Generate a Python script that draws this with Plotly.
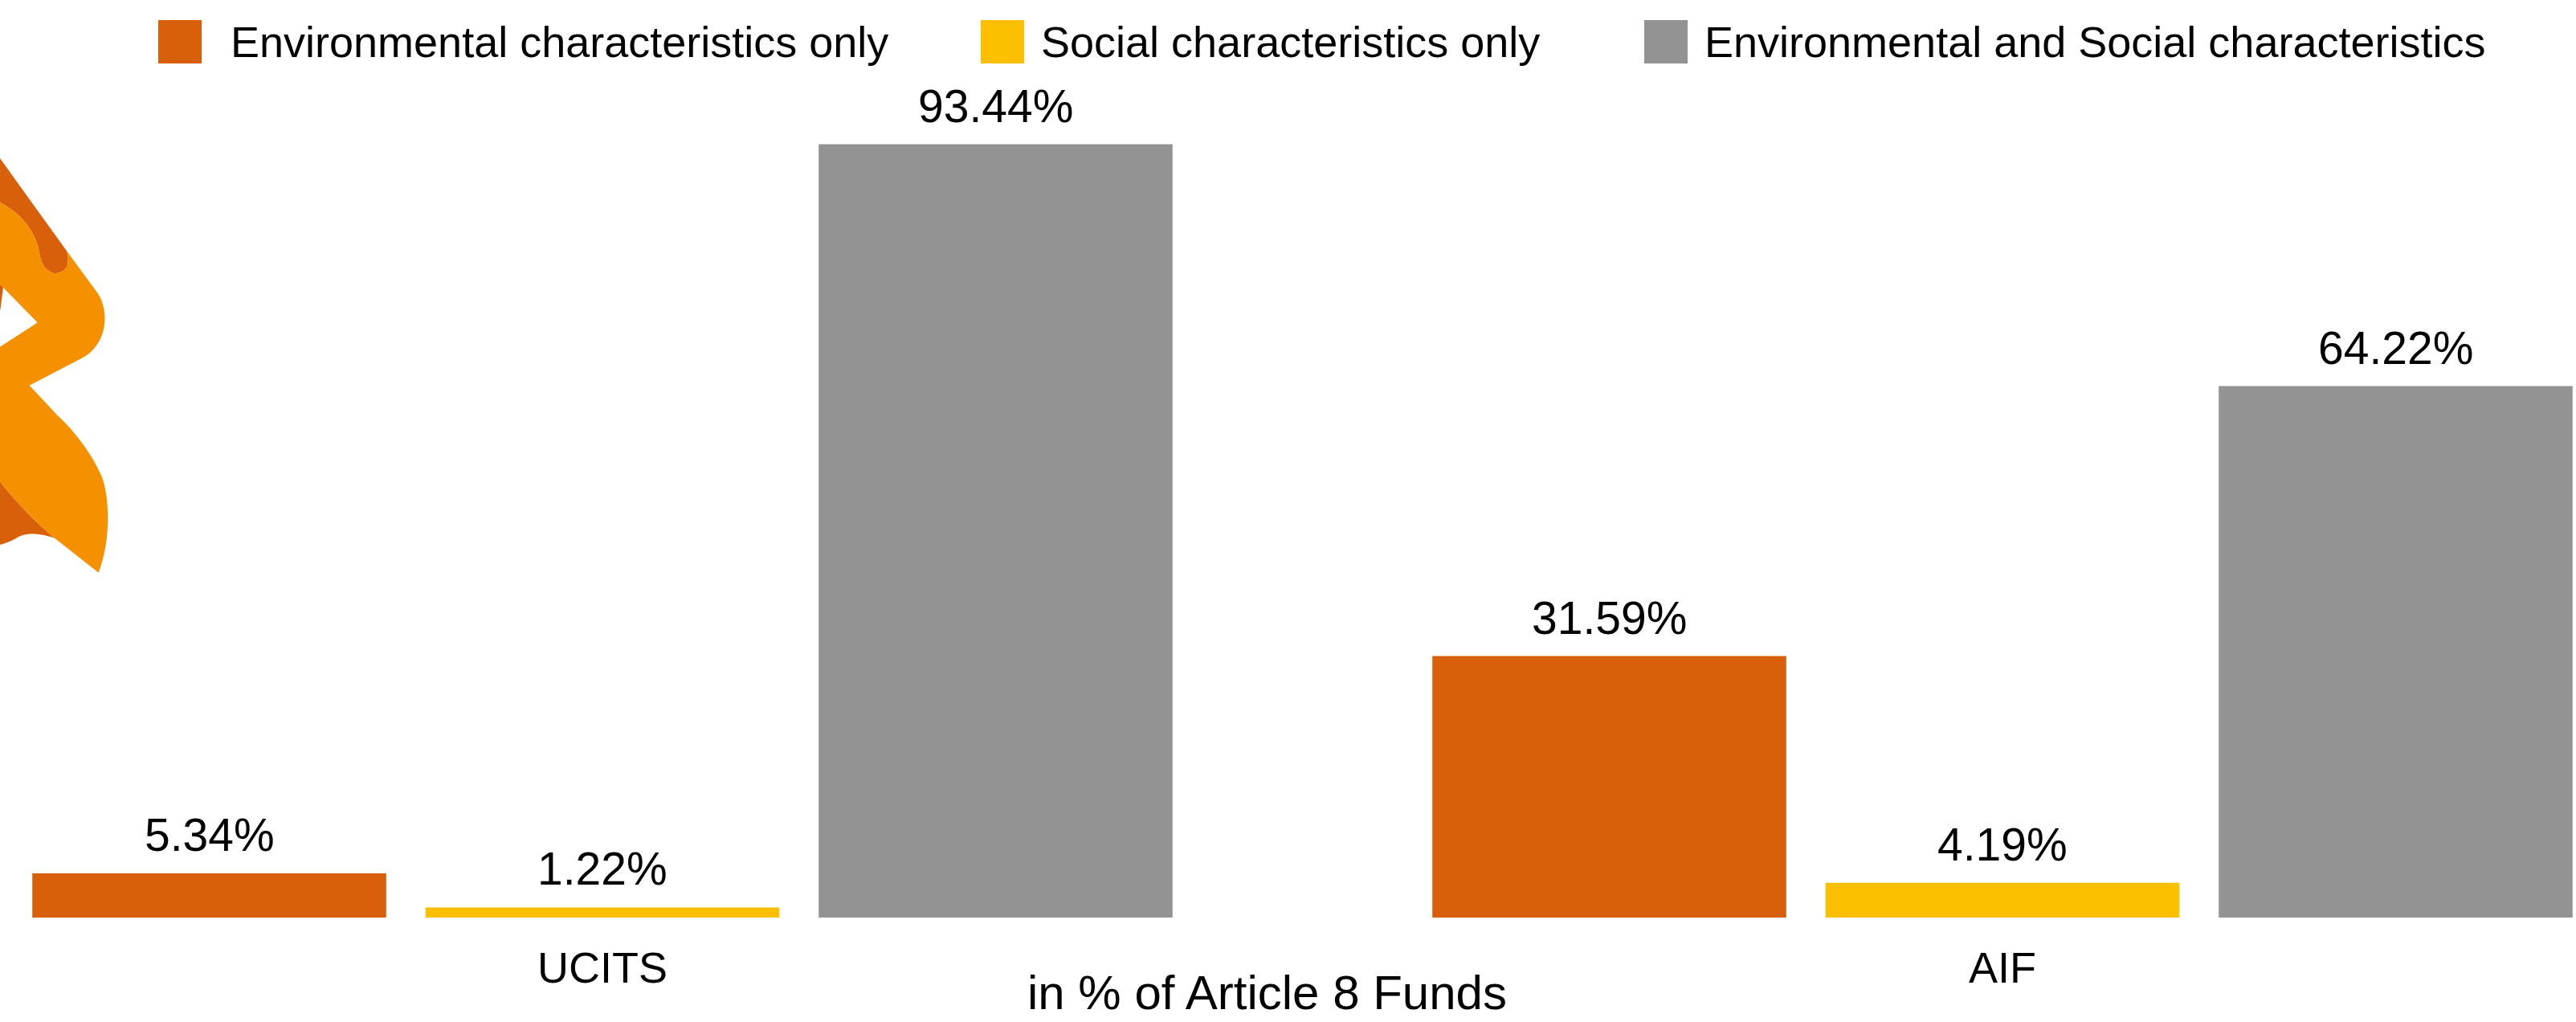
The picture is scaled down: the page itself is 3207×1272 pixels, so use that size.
import plotly.graph_objects as go

W, H = 3207, 1272
BASE_Y = 1142

fund_types = ["UCITS", "AIF"]
series_names = [
    "Environmental characteristics only",
    "Social characteristics only",
    "Environmental and Social characteristics",
]
environmental = [5.34, 31.59]
social = [1.22, 4.19]
env_and_social = [93.44, 64.22]
series_values = [environmental, social, env_and_social]
series_colors = ["#D9600A", "#FCC000", "#939393"]
axis_caption = "in % of Article 8 Funds"

LABEL_FONT = "Liberation Sans"

GROUP_STEP_PX = 1743   # distance between the two fund-type groups
BAR_STEP_PX = 489.5    # distance between neighbouring bars in a group
PX_PER_PCT = 10.3


def px(x):
    return x / W


def py(y):
    return (BASE_Y - y) / BASE_Y


def path(cmds):
    """Build an SVG path in paper coordinates from pixel-based commands."""
    out = []
    for cmd, *pts in cmds:
        out.append(cmd + " ".join(f"{px(x):.5f},{py(y):.5f}" for x, y in pts))
    return " ".join(out) + " Z"


def z(x, y):
    # Logo outline is authored on a 3 : 2.8 grid with its origin at (0, 170)
    return (x / 3, 170 + y / 2.8)


logo_light = [
    ("M", z(-3, 228)),
    ("C", z(70, 262), z(135, 325), z(148, 410)),
    ("C", z(155, 450), z(180, 478), z(210, 476)),
    ("C", z(250, 472), z(262, 445), z(250, 400)),
    ("L", z(360, 540)),
    ("C", z(410, 600), z(405, 720), z(310, 770)),
    ("L", z(110, 867)),
    ("L", z(215, 972)),
    ("C", z(290, 1035), z(350, 1120), z(378, 1180)),
    ("C", z(406, 1240), z(420, 1390), z(368, 1520)),
    ("L", z(205, 1400)),
    ("C", z(130, 1340), z(50, 1265), z(-3, 1198)),
    ("L", z(-3, 735)),
    ("L", z(140, 648)),
    ("L", z(-3, 512)),
]
logo_dark_top = [
    ("M", z(-3, 72)),
    ("L", z(250, 400)),
    ("C", z(262, 445), z(250, 472), z(210, 476)),
    ("C", z(180, 478), z(155, 450), z(148, 410)),
    ("C", z(135, 325), z(70, 262), z(-3, 228)),
]
logo_dark_bottom = [
    ("M", z(-3, 1198)),
    ("C", z(50, 1265), z(130, 1340), z(205, 1400)),
    ("C", z(160, 1385), z(100, 1375), z(60, 1400)),
    ("C", z(40, 1410), z(20, 1418), z(-3, 1423)),
]
logo_dark_sliver = [
    ("M", z(-3, 512)),
    ("L", z(12, 525)),
    ("L", z(1, 605)),
    ("L", z(-3, 605)),
]

shapes = [
    dict(type="path", xref="paper", yref="paper", path=path(p), fillcolor=c, line_width=0, layer="below")
    for p, c in [
        (logo_dark_top, "#D9600A"),
        (logo_dark_bottom, "#D9600A"),
        (logo_dark_sliver, "#D9600A"),
        (logo_light, "#F59100"),
    ]
]

# Legend row: swatch left edge and text left edge for each series
legend_swatch_x = [197, 1221, 2047]
legend_text_x = [285, 1294, 2120]
annotations = []
for name, color, sx, tx in zip(series_names, series_colors, legend_swatch_x, legend_text_x):
    shapes.append(dict(type="rect", xref="paper", yref="paper",
                       x0=px(sx), x1=px(sx + 54), y0=py(25), y1=py(79),
                       fillcolor=color, line_width=0))
    annotations.append(dict(xref="paper", yref="paper", x=px(tx), y=py(52),
                            text=name, showarrow=False, xanchor="left", yanchor="middle",
                            font=dict(family=LABEL_FONT, size=54, color="#000000")))

annotations.append(dict(xref="paper", yref="paper", x=px(1577), y=py(1235),
                        text=axis_caption, showarrow=False, xanchor="center", yanchor="middle",
                        font=dict(family=LABEL_FONT, size=60, color="#000000")))

fig = go.Figure()
for i, (name, values, color) in enumerate(zip(series_names, series_values, series_colors)):
    fig.add_trace(go.Bar(name=name, x=fund_types, y=values,
                         marker=dict(color=color, line_width=0)))
    # Value labels sit at each bar's top, offset sideways to its slot in the group
    for cat, v in zip(fund_types, values):
        annotations.append(dict(xref="x", yref="y", x=cat, y=v, text=f"{v:.2f}%",
                                showarrow=False, xanchor="center", yanchor="bottom",
                                xshift=(i - 1) * BAR_STEP_PX, yshift=14,
                                font=dict(family=LABEL_FONT, size=57, color="#000000")))

fig.update_layout(
    width=W, height=H, barmode="group",
    bargap=1 - 3 * BAR_STEP_PX / GROUP_STEP_PX, bargroupgap=0.1,
    margin=dict(l=0, r=0, t=0, b=H - BASE_Y, pad=0),
    paper_bgcolor="#FFFFFF", plot_bgcolor="#FFFFFF", showlegend=False,
    shapes=shapes, annotations=annotations,
    xaxis=dict(type="category", categoryorder="array", categoryarray=fund_types,
               range=[-750 / GROUP_STEP_PX, (W - 750) / GROUP_STEP_PX],
               showgrid=False, zeroline=False, showline=False, ticks="",
               ticklabelstandoff=26,
               tickfont=dict(family=LABEL_FONT, size=54, color="#000000")),
    yaxis=dict(range=[0, BASE_Y / PX_PER_PCT], visible=False),
)
fig.write_html("out.html", config=dict(displayModeBar=False))
